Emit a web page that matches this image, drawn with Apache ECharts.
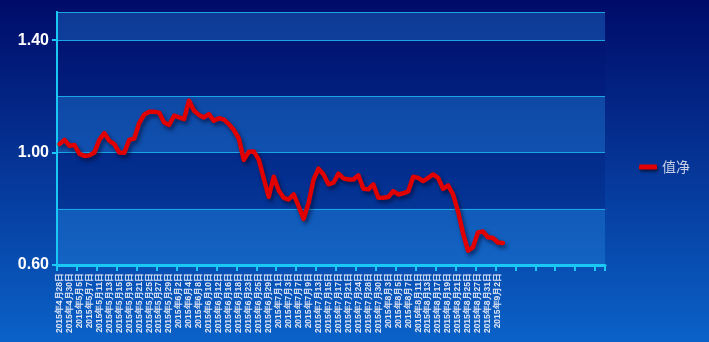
<!DOCTYPE html>
<html>
<head>
<meta charset="utf-8">
<script src="https://cdn.jsdelivr.net/npm/echarts@6/dist/echarts.min.js"></script>
<style>html,body{margin:0;padding:0;}#c{width:709px;height:342px;}</style>
</head>
<body>
<div id="c"></div>
<script>
// Trading dates (category axis)
var dates = [
 '2015年4月28日','2015年4月29日','2015年4月30日',
 '2015年5月4日','2015年5月5日','2015年5月6日','2015年5月7日','2015年5月8日',
 '2015年5月11日','2015年5月12日','2015年5月13日','2015年5月14日','2015年5月15日',
 '2015年5月18日','2015年5月19日','2015年5月20日','2015年5月21日','2015年5月22日',
 '2015年5月25日','2015年5月26日','2015年5月27日','2015年5月28日','2015年5月29日',
 '2015年6月1日','2015年6月2日','2015年6月3日','2015年6月4日','2015年6月5日',
 '2015年6月8日','2015年6月9日','2015年6月10日','2015年6月11日','2015年6月12日',
 '2015年6月15日','2015年6月16日','2015年6月17日','2015年6月18日','2015年6月19日',
 '2015年6月23日','2015年6月24日','2015年6月25日','2015年6月26日',
 '2015年6月29日','2015年6月30日','2015年7月1日','2015年7月2日','2015年7月3日',
 '2015年7月6日','2015年7月7日','2015年7月8日','2015年7月9日','2015年7月10日',
 '2015年7月13日','2015年7月14日','2015年7月15日','2015年7月16日','2015年7月17日',
 '2015年7月20日','2015年7月21日','2015年7月22日','2015年7月24日',
 '2015年7月27日','2015年7月28日','2015年7月29日','2015年7月30日','2015年7月31日',
 '2015年8月3日','2015年8月4日','2015年8月5日','2015年8月6日','2015年8月7日',
 '2015年8月10日','2015年8月11日','2015年8月12日','2015年8月13日','2015年8月14日',
 '2015年8月17日','2015年8月18日','2015年8月19日','2015年8月20日','2015年8月21日',
 '2015年8月24日','2015年8月25日','2015年8月26日','2015年8月27日','2015年8月28日',
 '2015年8月31日','2015年9月1日','2015年9月2日','2015年9月7日'
];
// Empty trailing categories shown on the axis
var blankSlots = 20;

// Net value series (净值)
var netValues = [
 1.030,1.045,1.024,1.027,0.995,0.988,0.990,1.000,1.045,1.069,
 1.042,1.030,1.000,0.999,1.045,1.050,1.105,1.135,1.145,1.145,
 1.142,1.107,1.098,1.131,1.125,1.119,1.185,1.149,1.134,1.125,
 1.137,1.113,1.122,1.117,1.101,1.080,1.050,0.974,1.003,1.004,
 0.975,0.908,0.842,0.914,0.865,0.839,0.833,0.851,0.809,0.764,
 0.821,0.904,0.943,0.922,0.887,0.893,0.925,0.908,0.904,0.904,
 0.919,0.871,0.869,0.887,0.839,0.839,0.842,0.863,0.851,0.855,
 0.862,0.914,0.910,0.898,0.910,0.922,0.910,0.871,0.883,0.851,
 0.791,0.713,0.651,0.663,0.716,0.719,0.699,0.696,0.680,0.678
];

var seriesName = '值净';
var yTickLabels = [0.6, 1.0, 1.4];

var cats = dates.slice();
for (var k = 0; k < blankSlots; k++) cats.push('');

var chart = echarts.init(document.getElementById('c'), null, {renderer: 'canvas'});
var cyan = '#19c8f5';
chart.setOption({
  animation: false,
  backgroundColor: {
    type: 'linear', x: 0, y: 0, x2: 0, y2: 1,
    colorStops: [{offset: 0, color: '#000b68'}, {offset: 1, color: '#0a62c8'}]
  },
  grid: {left: 57, right: 104, top: 12, bottom: 77, containLabel: false},
  legend: {
    left: 634, top: 155,
    icon: 'roundRect', itemWidth: 18, itemHeight: 5,
    textStyle: {color: '#c8d0e6', fontSize: 14, fontFamily: 'Noto Sans CJK SC'},
    data: [{name: seriesName, itemStyle: {color: '#e00000', shadowColor: 'rgba(0,0,0,0.6)', shadowBlur: 3, shadowOffsetX: 1, shadowOffsetY: 2}}]
  },
  xAxis: {
    type: 'category',
    data: cats,
    boundaryGap: true,
    axisLine: {show: true, lineStyle: {color: cyan, width: 3}},
    axisTick: {show: true, interval: 3, length: 6, lineStyle: {color: cyan, width: 2}},
    axisLabel: {
      show: true, interval: 1, rotate: 90, fontSize: 8.5, fontWeight: 'bold', color: '#dde4f4', margin: 8,
      fontFamily: 'Liberation Sans'
    },
    splitLine: {show: false}
  },
  yAxis: [{
    type: 'value',
    min: 0.6, max: 1.5, interval: 0.2,
    axisLine: {show: true, lineStyle: {color: cyan, width: 2}},
    axisTick: {show: false},
    axisLabel: {show: false},
    splitLine: {show: true, lineStyle: {color: '#1aa6e6', width: 1.2}},
    splitArea: {show: true, areaStyle: {color: ['rgba(40,140,230,0.35)', 'rgba(0,20,110,0.22)']}}
  }, {
    type: 'value',
    position: 'left',
    min: 0.6, max: 1.5, interval: 0.4,
    axisLine: {show: true, lineStyle: {color: cyan, width: 2}},
    axisTick: {show: true, length: 5, customValues: yTickLabels, lineStyle: {color: cyan, width: 2}},
    axisLabel: {
      customValues: yTickLabels,
      formatter: function (v) { return v.toFixed(2); },
      color: '#ffffff', fontSize: 16, fontWeight: 'bold', fontFamily: 'Liberation Sans', margin: 8
    },
    splitLine: {show: false},
    splitArea: {show: false}
  }],
  series: [{
    name: seriesName,
    type: 'line',
    data: netValues,
    symbol: 'none',
    smooth: false,
    lineStyle: {
      color: '#e00000', width: 4.5, cap: 'round', join: 'round',
      shadowColor: 'rgba(0,0,30,0.55)', shadowBlur: 4, shadowOffsetX: 2, shadowOffsetY: 3
    },
    itemStyle: {color: '#e00000'}
  }]
});
</script>
</body>
</html>
